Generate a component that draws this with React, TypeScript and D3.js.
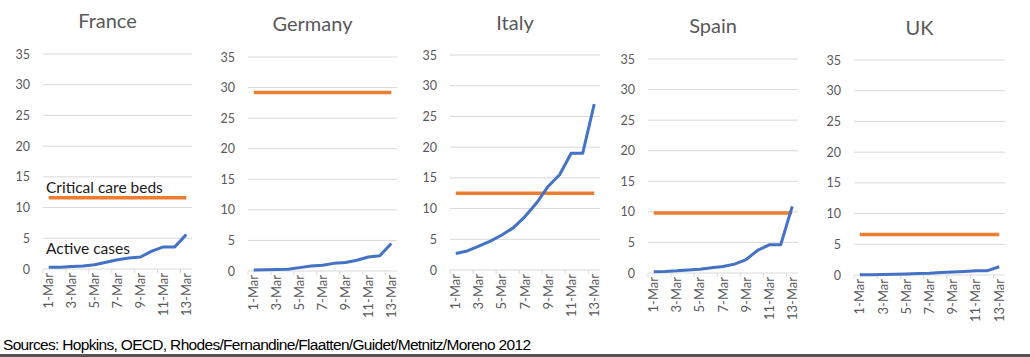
import React from 'react';
import * as d3 from 'd3';

const dates = ['1-Mar','2-Mar','3-Mar','4-Mar','5-Mar','6-Mar','7-Mar','8-Mar','9-Mar','10-Mar','11-Mar','12-Mar','13-Mar'];
const countries = ['France', 'Germany', 'Italy', 'Spain', 'UK'];
const franceActive = [0.27, 0.3, 0.4, 0.5, 0.7, 1.1, 1.5, 1.8, 1.95, 2.9, 3.6, 3.6, 5.6];
const germanyActive = [0.15, 0.2, 0.25, 0.3, 0.55, 0.8, 0.95, 1.25, 1.4, 1.75, 2.3, 2.5, 4.5];
const italyActive = [2.7, 3.1, 3.9, 4.7, 5.7, 6.9, 8.7, 10.9, 13.6, 15.5, 19.0, 19.0, 27.0];
const spainActive = [0.2, 0.25, 0.35, 0.5, 0.6, 0.85, 1.05, 1.45, 2.2, 3.7, 4.6, 4.6, 10.9];
const ukActive = [0.05, 0.06, 0.08, 0.13, 0.17, 0.25, 0.3, 0.4, 0.48, 0.57, 0.7, 0.7, 1.35];
const criticalCareBeds = [11.6, 29.2, 12.5, 9.8, 6.6];
const yTicks = [0, 5, 10, 15, 20, 25, 30, 35];
const source = 'Sources: Hopkins, OECD, Rhodes/Fernandine/Flaatten/Guidet/Metnitz/Moreno 2012';

const activeSeries = [franceActive, germanyActive, italyActive, spainActive, ukActive];

// layout of each pasted panel (pixels)
const panelLayout = [
  { x0: 43, x1: 192, yZero: 269, yTop: 54, titleY: 28 },
  { x0: 248, x1: 397, yZero: 271, yTop: 57, titleY: 31 },
  { x0: 450, x1: 600, yZero: 270, yTop: 55, titleY: 30 },
  { x0: 648, x1: 798, yZero: 273, yTop: 59, titleY: 33 },
  { x0: 854, x1: 1005, yZero: 275, yTop: 60, titleY: 35 },
];

const BLUE = '#4472C4';
const ORANGE = '#ED7D31';
const GRID = '#D9D9D9';
const TEXT = '#595959';
const FONT = 'Lato, "Open Sans", sans-serif';

function Panel({ idx }: { idx: number }) {
  const L = panelLayout[idx];
  const x = d3.scaleBand<string>().domain(dates).range([L.x0, L.x1]).padding(0);
  const y = d3.scaleLinear().domain([0, 35]).range([L.yZero, L.yTop]);
  const cx = (d: string) => (x(d) as number) + x.bandwidth() / 2;
  const active = activeSeries[idx];
  const beds = dates.map(() => criticalCareBeds[idx]);
  const line = d3.line<number>().x((_, i) => cx(dates[i])).y((v) => y(v));
  const tickBounds = d3.range(0, dates.length + 1, 2).map((i) => L.x0 + i * x.bandwidth());
  return (
    <g>
      <text x={(L.x0 + L.x1) / 2 - 10} y={L.titleY} textAnchor="middle" fontSize={20} fill={TEXT} fontFamily={FONT}>
        {countries[idx]}
      </text>
      {yTicks.map((t) => (
        <g key={t}>
          <line x1={L.x0} x2={L.x1} y1={y(t)} y2={y(t)} stroke={GRID} strokeWidth={1} />
          <text x={L.x0 - 13} y={y(t) + 4.5} textAnchor="end" fontSize={12.5} fill={TEXT} fontFamily={FONT}>
            {t}
          </text>
        </g>
      ))}
      {tickBounds.map((b, i) => (
        <line key={i} x1={b} x2={b} y1={L.yZero} y2={L.yZero + 4} stroke={GRID} strokeWidth={1} />
      ))}
      {dates.map((d, i) =>
        i % 2 === 0 ? (
          <text
            key={d}
            transform={`translate(${cx(d) + 4.5},${L.yZero + 4}) rotate(-90)`}
            textAnchor="end"
            fontSize={13}
            fill={TEXT}
            fontFamily={FONT}
          >
            {d}
          </text>
        ) : null
      )}
      <path d={line(beds) || ''} fill="none" stroke={ORANGE} strokeWidth={3.5} />
      <path d={line(active) || ''} fill="none" stroke={BLUE} strokeWidth={3} strokeLinejoin="round" />
      {idx === 0 && (
        <g>
          <text x={46} y={193} fontSize={15.5} fill="#1a1a1a" fontFamily={FONT}>Critical care beds</text>
          <text x={46} y={254} fontSize={15.5} fill="#1a1a1a" fontFamily={FONT}>Active cases</text>
        </g>
      )}
    </g>
  );
}

export default function App() {
  return (
    <svg width={1030} height={357} style={{ position: 'absolute', left: 0, top: 0, background: '#fff' }}>
      <rect x={0} y={0} width={1030} height={357} fill="#fff" />
      {countries.map((c, i) => (
        <Panel key={c} idx={i} />
      ))}
      <text x={3} y={350} fontSize={15.5} fill="#000" fontFamily='"Liberation Sans", Arial, sans-serif' textLength={528}>
        {source}
      </text>
      <rect x={0} y={354} width={1030} height={3} fill="#555" />
    </svg>
  );
}
